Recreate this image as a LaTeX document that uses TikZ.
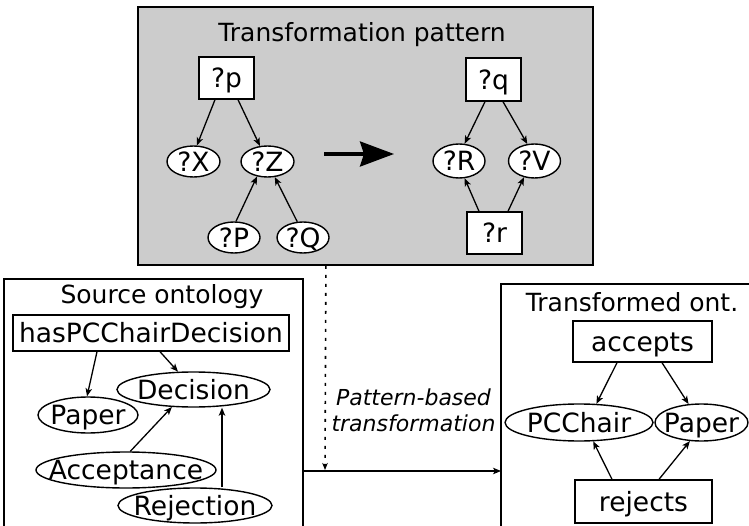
\documentclass[tikz,border=0pt]{standalone}
\usepackage{fontspec}
\setmainfont{DejaVu Sans}
\usetikzlibrary{shapes.geometric,arrows.meta,calc}
\newcommand\ctrtext[1]{\makebox[0pt]{#1}}
\begin{document}
\begin{tikzpicture}[x=1pt,y=-1pt,
  ttl/.style={font=\fontsize{25}{30}\selectfont, inner sep=0pt, text height=18.2pt, text depth=0pt},
  txt/.style={font=\fontsize{26.5}{31}\selectfont, inner sep=0pt, text height=19.3pt, text depth=0pt},
  boxnode/.style={txt, draw, fill=white, line width=1.4pt, rectangle},
  oval/.style={txt, draw, fill=white, line width=1.4pt, ellipse},
  frame/.style={draw, line width=1.4pt},
  arr/.style={-{Stealth[length=8pt,width=6.5pt,inset=2pt]}, line width=1.3pt},
  bigarr/.style={-{Stealth[length=34pt,width=25pt,inset=4pt]}, line width=3.2pt},
  dotarr/.style={-{Stealth[length=7pt,width=5.5pt,inset=2pt]}, line width=1.6pt, dash pattern=on 3pt off 6pt}
]
\useasboundingbox (0,0) rectangle (749,526);

% pattern panel
\node[draw, fill=black!20, line width=1.8pt, minimum width=455pt, minimum height=258pt, anchor=north west, inner sep=0pt] (pat) at (137,6) {};
\node[ttl] (pattitle) at (362,32) {Transformation pattern};

\node[boxnode, minimum width=55pt, minimum height=42pt] (p) at (226.5,78) {?p};
\node[oval, minimum width=53pt, minimum height=31pt] (X) at (193.5,161.5) {\ctrtext{?X}};
\node[oval, minimum width=53pt, minimum height=31pt] (Z) at (267.5,161.5) {\ctrtext{?Z}};
\node[oval, minimum width=52pt, minimum height=31pt] (P) at (234,237.5) {\ctrtext{?P}};
\node[oval, minimum width=52pt, minimum height=31pt] (Q) at (303,237.5) {\ctrtext{?Q}};

\node[boxnode, minimum width=55pt, minimum height=43pt] (q) at (493.5,79.5) {?q};
\node[oval, minimum width=52pt, minimum height=34pt] (R) at (459,161) {\ctrtext{?R}};
\node[oval, minimum width=52pt, minimum height=34pt] (V) at (534.5,161) {\ctrtext{?V}};
\node[boxnode, minimum width=55pt, minimum height=42pt] (r) at (494.5,233) {?r};

\draw[arr] ([xshift=-11.5pt]p.south) -- (X.78);
\draw[arr] ([xshift=11.5pt]p.south) -- (Z.116);
\draw[arr] (P.83) -- (Z.235);
\draw[arr] (Q.110) -- (Z.-65);
\draw[arr] ([xshift=-8.5pt]q.south) -- (R.72);
\draw[arr] ([xshift=9.5pt]q.south) -- (V.113);
\draw[arr] ([xshift=-15.5pt]r.north) -- (R.-72);
\draw[arr] ([xshift=13.5pt]r.north) -- (V.-123);

\coordinate (bigA) at (324,154);
\coordinate (bigB) at (394,154);
\draw[bigarr] (bigA) -- (bigB);

% source ontology
\draw[frame] (4,527) -- (4,279) -- (303,279) -- (303,527);
\node[ttl] (srctitle) at (162,294) {Source ontology};
\node[boxnode, minimum width=276pt, minimum height=36pt] (hpc) at (151,333) {hasPCChairDecision};
\node[oval, minimum width=153pt, minimum height=35pt] (dec) at (193.5,389.5) {\ctrtext{Decision}};
\node[oval, minimum width=100pt, minimum height=36pt] (pap1) at (88,415) {\ctrtext{Paper}};
\node[oval, minimum width=180pt, minimum height=36pt] (acc) at (126,470) {\ctrtext{Acceptance}};
\node[oval, minimum width=154pt, minimum height=35pt] (rej) at (195,505.5) {\ctrtext{Rejection}};

\draw[arr] ([xshift=-54pt]hpc.south) -- (pap1.93);
\draw[arr] ([xshift=9pt]hpc.south) -- (dec.131);
\draw[arr] (acc.77) -- (dec.219);
\draw[arr] ([xshift=27pt]rej.north) -- ([xshift=28.5pt]dec.south);

% transformed ontology
\draw[frame] (501,527) -- (501,284) -- (750,284);
\node[ttl] (trgtitle) at (632,302.5) {Transformed ont.};
\node[boxnode, minimum width=139pt, minimum height=41pt] (accb) at (642.5,341.5) {accepts};
\node[oval, minimum width=148pt, minimum height=37pt] (pcc) at (579,422.5) {\ctrtext{PCChair}};
\node[oval, minimum width=93pt, minimum height=37pt] (pap2) at (701.5,422.5) {\ctrtext{Paper}};
\node[boxnode, minimum width=137pt, minimum height=43pt] (rejb) at (643.5,501.5) {rejects};

\draw[arr] ([xshift=-25.5pt]accb.south) -- (pcc.47);
\draw[arr] ([xshift=19.5pt]accb.south) -- (pap2.125);
\draw[arr] ([xshift=-31.5pt]rejb.north) -- (pcc.-53);
\draw[arr] ([xshift=15.5pt]rejb.north) -- (pap2.-122);

% transformation connector
\coordinate (srcR) at (303,471);
\coordinate (trgL) at (501,471);
\coordinate (dotend) at (325,470);
\draw[arr] (srcR) -- (trgL);
\draw[dotarr] ([xshift=-39.5pt]pat.south) -- (dotend);
\node[font=\fontsize{22}{26}\selectfont\itshape, align=center, inner sep=0pt, anchor=base] (tlabel) at (413.5,431) {Pattern-based\\transformation};
\end{tikzpicture}
\end{document}
